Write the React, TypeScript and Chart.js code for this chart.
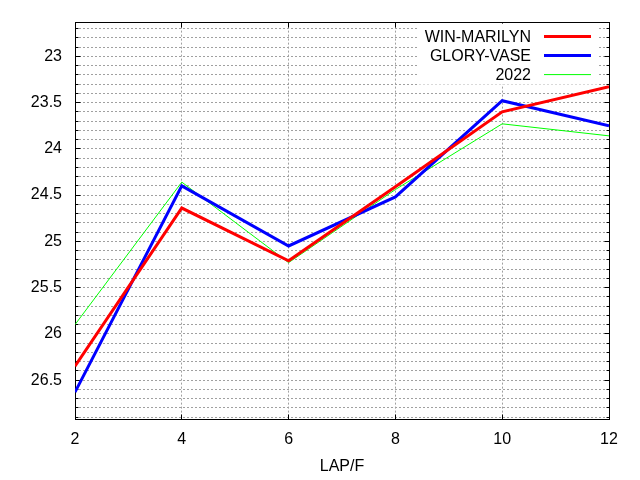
import React, { useEffect, useRef } from 'react';
import { Chart, registerables } from 'chart.js';

Chart.register(...registerables);

// lap numbers on the x axis
const laps = [2, 4, 6, 8, 10, 12];

// series values
const winMarilyn = [26.35, 24.64, 25.21, 24.41, 23.6, 23.33];
const gloryVase = [26.63, 24.4, 25.05, 24.52, 23.48, 23.75];
const year2022 = [25.9, 24.36, 25.23, 24.44, 23.73, 23.86];

const seriesNames = ['WIN-MARILYN', 'GLORY-VASE', '2022'];
const seriesColors = ['#ff0000', '#0000ff', '#00ff00'];
const seriesWidths = [3, 3, 1];

// axis ticks
const xTicks = [2, 4, 6, 8, 10, 12];
const yMajorTicks = [23, 23.5, 24, 24.5, 25, 25.5, 26, 26.5];
const yMinorStep = 0.1;
const yMin = 22.636;
const yMax = 26.92;

const FONT = "'Liberation Sans', Arial, sans-serif";
const FONT_SIZE = 16;

const yMinorTicks: number[] = [];
for (let v = Math.ceil(yMin / yMinorStep) * yMinorStep; v < yMax; v += yMinorStep) {
  yMinorTicks.push(Math.round(v * 10) / 10);
}

const isMajor = (v: number) => yMajorTicks.some((m) => Math.abs(m - v) < 1e-6);
const crisp = (p: number) => Math.round(p - 0.5) + 0.5;

// black box plus gnuplot-like inward tick marks
const framePlugin = {
  id: 'frame',
  beforeDatasetsDraw(chart: any) {
    const { ctx, chartArea: a, scales } = chart;
    const l = crisp(a.left), r = crisp(a.right), t = crisp(a.top), b = crisp(a.bottom);
    ctx.save();
    ctx.strokeStyle = '#000';
    ctx.lineWidth = 1;
    ctx.beginPath();
    yMinorTicks.forEach((v) => {
      const y = crisp(scales.y.getPixelForValue(v));
      const len = isMajor(v) ? 5 : 3;
      ctx.moveTo(l, y); ctx.lineTo(l + len, y);
      ctx.moveTo(r, y); ctx.lineTo(r - len, y);
    });
    xTicks.forEach((v) => {
      const x = crisp(scales.x.getPixelForValue(v));
      ctx.moveTo(x, b); ctx.lineTo(x, b - 5);
      ctx.moveTo(x, t); ctx.lineTo(x, t + 5);
    });
    ctx.stroke();
    ctx.strokeRect(l, t, r - l, b - t);

    // legend box (opaque, no border)
    ctx.fillStyle = '#fff';
    ctx.fillRect(a.right - 191, a.top + 1, 179, 61);
    ctx.restore();
  },
  afterDatasetsDraw(chart: any) {
    const { ctx, chartArea: a } = chart;
    ctx.save();
    ctx.font = `${FONT_SIZE}px ${FONT}`;
    ctx.textAlign = 'right';
    ctx.textBaseline = 'middle';
    chart.data.datasets.forEach((ds: any, i: number) => {
      const y = a.top + 14 + i * 19;
      ctx.fillStyle = '#000';
      ctx.fillText(ds.label, a.right - 78, y + 1);
      ctx.strokeStyle = ds.borderColor;
      ctx.lineWidth = ds.borderWidth;
      ctx.beginPath();
      ctx.moveTo(a.right - 65, y);
      ctx.lineTo(a.right - 18, y);
      ctx.stroke();
    });
    ctx.restore();
  },
};

const App = () => {
  const canvasRef = useRef<HTMLCanvasElement>(null);
  const chartRef = useRef<Chart>();

  useEffect(() => {
    if (!canvasRef.current) return;
    if (chartRef.current) chartRef.current.destroy();

    const series = [winMarilyn, gloryVase, year2022];

    chartRef.current = new Chart(canvasRef.current, {
      type: 'line',
      data: {
        datasets: series.map((vals, i) => ({
          label: seriesNames[i],
          data: laps.map((x, j) => ({ x, y: vals[j] })),
          borderColor: seriesColors[i],
          backgroundColor: seriesColors[i],
          borderWidth: seriesWidths[i],
          pointRadius: 0,
          tension: 0,
          fill: false,
        })),
      },
      options: {
        animation: false,
        responsive: false,
        layout: { padding: { top: 19, right: 31, left: 0, bottom: 0 } },
        plugins: {
          legend: { display: false },
          tooltip: { enabled: false },
        },
        scales: {
          x: {
            type: 'linear',
            min: 2,
            max: 12,
            afterBuildTicks: (scale: any) => {
              scale.ticks = xTicks.map((value) => ({ value }));
            },
            afterFit: (scale: any) => {
              scale.height = 61;
            },
            grid: { color: '#a0a0a0', lineWidth: 1, drawTicks: false },
            border: { display: false, dash: [2, 2] },
            ticks: {
              color: '#000',
              font: { family: FONT, size: FONT_SIZE },
              padding: 11,
              maxRotation: 0,
              autoSkip: false,
            },
            title: {
              display: true,
              text: 'LAP/F',
              color: '#000',
              font: { family: FONT, size: FONT_SIZE },
              padding: { top: 0, bottom: 4 },
            },
          },
          y: {
            type: 'linear',
            reverse: true,
            min: yMin,
            max: yMax,
            afterBuildTicks: (scale: any) => {
              scale.ticks = yMinorTicks.map((value) => ({ value }));
            },
            afterFit: (scale: any) => {
              scale.width = 75;
            },
            grid: { color: '#a0a0a0', lineWidth: 1, drawTicks: false },
            border: { display: false, dash: [2, 2] },
            ticks: {
              color: '#000',
              font: { family: FONT, size: FONT_SIZE },
              padding: 13,
              autoSkip: false,
              callback: (v: any) => (isMajor(Number(v)) ? String(Number(v)) : ''),
            },
          },
        },
      },
      plugins: [framePlugin],
    });

    return () => {
      if (chartRef.current) {
        chartRef.current.destroy();
        chartRef.current = undefined;
      }
    };
  }, []);

  return (
    <div style={{ position: 'absolute', left: 0, top: 0, width: 640, height: 480, background: '#fff' }}>
      <canvas ref={canvasRef} width={640} height={480} />
    </div>
  );
};

export default App;
